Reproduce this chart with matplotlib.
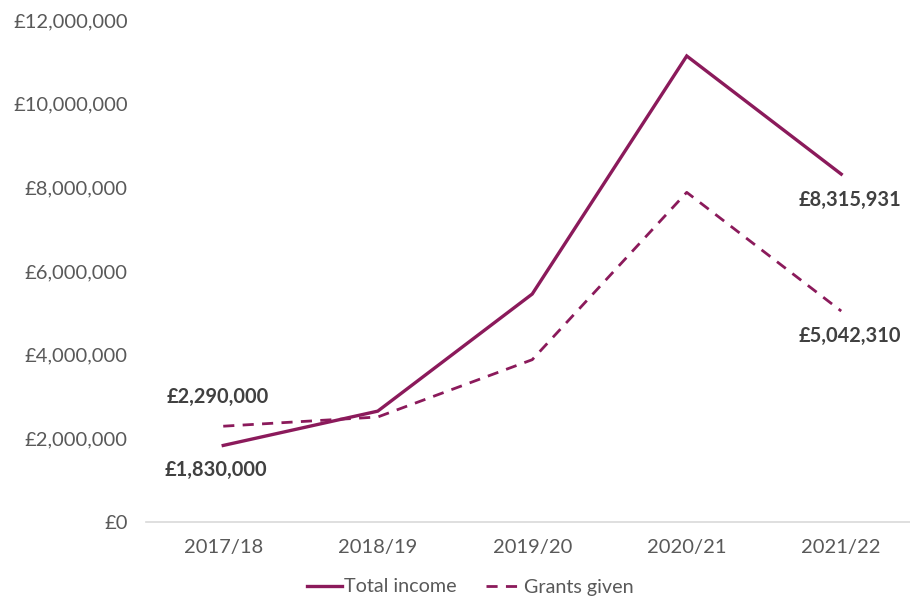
import matplotlib
matplotlib.use("Agg")
import matplotlib.pyplot as plt
from matplotlib.ticker import FuncFormatter

years = ["2017/18", "2018/19", "2019/20", "2020/21", "2021/22"]
total_income = [1830000, 2650000, 5450000, 11140000, 8315931]
grants_given = [2290000, 2510000, 3880000, 7880000, 5042310]

plt.rcParams["font.family"] = ["Lato", "DejaVu Sans"]

W, H = 910, 596
fig = plt.figure(figsize=(W / 100, H / 100), dpi=100)
ax = fig.add_axes([146 / W, 1 - 522 / H, (910 - 146) / W, (522 - 20) / H])

purple = "#8B1A5B"
text_grey = "#595959"
label_grey = "#404040"

x = list(range(len(years)))
ax.plot(x, total_income, color=purple, lw=2.4, label="Total income",
        solid_joinstyle="miter")
ax.plot(x, grants_given, color=purple, lw=2.0, ls=(0, (4, 3)),
        label="Grants given")

ax.set_xlim(-0.5, 4 + (910 - 841) / 155)
ax.set_ylim(0, 12e6)
ax.set_yticks([i * 2e6 for i in range(7)])
ax.yaxis.set_major_formatter(FuncFormatter(lambda v, p: f"£{v:,.0f}"))
ax.set_xticks(x)
ax.set_xticklabels(years)

for s in ["top", "right", "left"]:
    ax.spines[s].set_visible(False)
ax.spines["bottom"].set_color("#D9D9D9")
ax.spines["bottom"].set_linewidth(1.2)
ax.tick_params(axis="both", length=0, labelsize=14.5, colors=text_grey)
ax.tick_params(axis="x", pad=12)
ax.tick_params(axis="y", pad=13)

fmt = lambda v: f"£{v:,.0f}"
lbl = dict(fontsize=14.4, fontweight="bold", color=label_grey, ha="center",
           va="center")
ax.annotate(fmt(total_income[0]), (0, total_income[0]), xytext=(-7, -25),
            textcoords="offset pixels", **lbl)
ax.annotate(fmt(grants_given[0]), (0, grants_given[0]), xytext=(-5, 29),
            textcoords="offset pixels", **lbl)
ax.annotate(fmt(total_income[4]), (4, total_income[4]), xytext=(9, -26),
            textcoords="offset pixels", **lbl)
ax.annotate(fmt(grants_given[4]), (4, grants_given[4]), xytext=(9, -25),
            textcoords="offset pixels", **lbl)

leg = fig.legend(loc="center", bbox_to_anchor=(470 / W, 1 - 587 / H), ncol=2,
                 frameon=False, fontsize=14.2, handlelength=1.8,
                 handletextpad=0.1, columnspacing=1.5)
for t in leg.get_texts():
    t.set_color(text_grey)

fig.savefig("out.png", dpi=100)
